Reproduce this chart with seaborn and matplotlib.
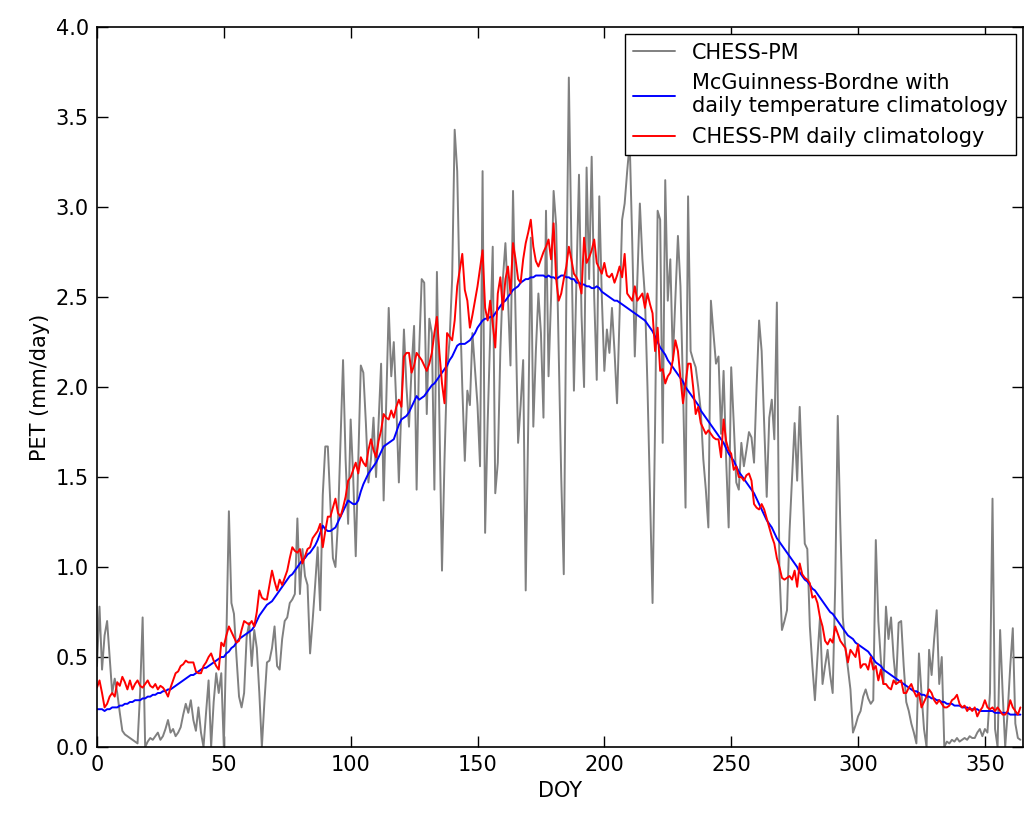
import numpy as np
import pandas as pd
import seaborn as sns
import matplotlib.pyplot as plt

# day of year
doy = np.arange(0, 365)

# CHESS-PM daily PET (mm/day)
chess_pm = [
    0.45, 0.78, 0.43, 0.62, 0.70, 0.50, 0.30, 0.38, 0.30, 0.19,
    0.09, 0.07, 0.06, 0.05, 0.04, 0.03, 0.02, 0.30, 0.72, 0.00,
    0.03, 0.05, 0.04, 0.06, 0.08, 0.04, 0.06, 0.10, 0.15, 0.08,
    0.10, 0.06, 0.08, 0.11, 0.18, 0.24, 0.19, 0.26, 0.15, 0.09,
    0.22, 0.08, 0.00, 0.19, 0.37, 0.00, 0.25, 0.41, 0.30, 0.41,
    0.00, 0.60, 1.31, 0.80, 0.74, 0.50, 0.28, 0.22, 0.30, 0.61,
    0.69, 0.45, 0.65, 0.55, 0.30, 0.00, 0.25, 0.47, 0.48, 0.55,
    0.67, 0.45, 0.43, 0.60, 0.70, 0.72, 0.80, 0.82, 0.85, 1.27,
    0.85, 1.10, 0.95, 0.90, 0.52, 0.70, 0.90, 1.11, 0.76, 1.40,
    1.67, 1.67, 1.35, 1.05, 1.00, 1.25, 1.70, 2.15, 1.60, 1.24,
    1.82, 1.50, 1.06, 1.60, 2.12, 2.08, 1.80, 1.47, 1.60, 1.83,
    1.50, 1.80, 2.13, 1.37, 1.90, 2.44, 2.06, 2.25, 1.90, 1.47,
    1.90, 2.32, 2.00, 1.78, 2.10, 2.34, 1.43, 2.20, 2.60, 2.58,
    1.85, 2.38, 2.30, 1.43, 2.64, 1.80, 0.98, 1.60, 2.10, 2.26,
    2.60, 3.43, 3.20, 2.50, 2.00, 1.59, 1.98, 1.90, 2.30, 2.10,
    1.90, 1.56, 3.20, 1.19, 1.80, 2.30, 2.78, 1.41, 1.58, 2.20,
    2.60, 2.80, 2.50, 2.12, 3.09, 2.40, 1.69, 1.90, 2.15, 0.87,
    1.80, 2.83, 1.78, 2.20, 2.52, 2.30, 1.83, 2.98, 2.06, 2.50,
    3.09, 2.90, 2.20, 1.50, 0.96, 2.50, 3.72, 2.80, 1.98, 2.60,
    3.18, 2.40, 2.00, 3.22, 2.60, 3.28, 2.50, 2.04, 3.06, 2.50,
    2.09, 2.32, 2.19, 2.44, 2.20, 1.91, 2.40, 2.93, 3.02, 3.20,
    3.36, 2.80, 2.17, 2.60, 3.02, 2.71, 2.50, 2.00, 1.40, 0.80,
    1.80, 2.98, 2.93, 1.69, 3.15, 2.48, 2.71, 2.15, 2.50, 2.84,
    2.56, 2.00, 1.33, 3.06, 2.20, 2.15, 2.11, 2.00, 1.87, 1.60,
    1.43, 1.22, 2.48, 2.30, 2.13, 2.17, 1.74, 2.09, 1.60, 1.22,
    2.11, 1.80, 1.47, 1.43, 1.69, 1.56, 1.65, 1.75, 1.72, 1.58,
    2.00, 2.37, 2.20, 1.80, 1.39, 1.83, 1.93, 1.71, 2.47, 0.98,
    0.65, 0.70, 0.76, 1.20, 1.50, 1.80, 1.48, 1.89, 1.50, 1.13,
    1.10, 0.67, 0.45, 0.26, 0.50, 0.72, 0.35, 0.45, 0.54, 0.40,
    0.30, 0.90, 1.84, 1.24, 0.72, 0.55, 0.44, 0.32, 0.08, 0.12,
    0.17, 0.20, 0.28, 0.32, 0.27, 0.24, 0.26, 1.15, 0.70, 0.48,
    0.35, 0.78, 0.60, 0.72, 0.50, 0.35, 0.69, 0.70, 0.45, 0.25,
    0.20, 0.13, 0.08, 0.02, 0.52, 0.30, 0.10, 0.00, 0.54, 0.40,
    0.60, 0.76, 0.35, 0.50, 0.00, 0.03, 0.02, 0.04, 0.03, 0.05,
    0.03, 0.04, 0.05, 0.04, 0.06, 0.05, 0.05, 0.08, 0.10, 0.06,
    0.10, 0.08, 0.30, 1.38, 0.10, 0.00, 0.65, 0.30, 0.00, 0.20,
    0.45, 0.66, 0.13, 0.05, 0.04,
]

# McGuinness-Bordne with daily temperature climatology
mcg_bordne = [
    0.21, 0.21, 0.21, 0.20, 0.21, 0.21, 0.22, 0.22, 0.22, 0.23,
    0.23, 0.24, 0.24, 0.25, 0.25, 0.26, 0.26, 0.26, 0.27, 0.27,
    0.28, 0.28, 0.29, 0.29, 0.30, 0.30, 0.31, 0.31, 0.32, 0.32,
    0.33, 0.34, 0.35, 0.36, 0.37, 0.38, 0.39, 0.40, 0.40, 0.41,
    0.42, 0.43, 0.44, 0.44, 0.45, 0.46, 0.47, 0.48, 0.49, 0.50,
    0.50, 0.52, 0.53, 0.55, 0.56, 0.58, 0.60, 0.61, 0.62, 0.63,
    0.64, 0.65, 0.67, 0.70, 0.73, 0.75, 0.77, 0.79, 0.80, 0.81,
    0.83, 0.85, 0.87, 0.89, 0.91, 0.93, 0.95, 0.96, 0.98, 1.00,
    1.02, 1.04, 1.05, 1.07, 1.08, 1.10, 1.12, 1.15, 1.19, 1.23,
    1.21, 1.20, 1.20, 1.21, 1.22, 1.25, 1.28, 1.31, 1.34, 1.37,
    1.36, 1.35, 1.35, 1.37, 1.42, 1.46, 1.49, 1.52, 1.54, 1.56,
    1.58, 1.61, 1.64, 1.67, 1.68, 1.69, 1.70, 1.71, 1.75, 1.79,
    1.82, 1.83, 1.84, 1.86, 1.89, 1.92, 1.95, 1.93, 1.94, 1.95,
    1.97, 1.99, 2.01, 2.02, 2.04, 2.06, 2.08, 2.10, 2.12, 2.15,
    2.17, 2.20, 2.23, 2.24, 2.24, 2.24, 2.25, 2.26, 2.28, 2.30,
    2.33, 2.35, 2.37, 2.38, 2.38, 2.39, 2.39, 2.41, 2.43, 2.45,
    2.47, 2.48, 2.50, 2.52, 2.54, 2.55, 2.56, 2.58, 2.59, 2.60,
    2.60, 2.61, 2.61, 2.62, 2.62, 2.62, 2.62, 2.61, 2.62, 2.61,
    2.61, 2.60, 2.61, 2.62, 2.62, 2.61, 2.61, 2.60, 2.60, 2.58,
    2.58, 2.57, 2.57, 2.56, 2.56, 2.55, 2.55, 2.56, 2.55, 2.53,
    2.52, 2.51, 2.50, 2.49, 2.48, 2.48, 2.47, 2.46, 2.45, 2.44,
    2.43, 2.42, 2.41, 2.40, 2.39, 2.38, 2.37, 2.35, 2.33, 2.31,
    2.28, 2.25, 2.22, 2.20, 2.18, 2.15, 2.13, 2.11, 2.09, 2.07,
    2.05, 2.03, 2.00, 1.98, 1.96, 1.94, 1.92, 1.90, 1.87, 1.85,
    1.83, 1.81, 1.79, 1.77, 1.75, 1.73, 1.71, 1.69, 1.66, 1.63,
    1.61, 1.59, 1.56, 1.53, 1.51, 1.49, 1.47, 1.45, 1.43, 1.41,
    1.38, 1.35, 1.32, 1.29, 1.26, 1.24, 1.22, 1.19, 1.16, 1.14,
    1.12, 1.10, 1.08, 1.06, 1.04, 1.02, 1.00, 0.97, 0.95, 0.93,
    0.92, 0.90, 0.88, 0.87, 0.85, 0.83, 0.81, 0.79, 0.77, 0.75,
    0.74, 0.72, 0.70, 0.68, 0.66, 0.64, 0.62, 0.61, 0.60, 0.58,
    0.57, 0.56, 0.55, 0.54, 0.53, 0.51, 0.49, 0.47, 0.46, 0.45,
    0.43, 0.42, 0.41, 0.40, 0.39, 0.38, 0.37, 0.36, 0.35, 0.34,
    0.33, 0.32, 0.31, 0.31, 0.30, 0.29, 0.29, 0.28, 0.28, 0.27,
    0.27, 0.26, 0.26, 0.25, 0.25, 0.24, 0.24, 0.24, 0.23, 0.23,
    0.23, 0.22, 0.22, 0.22, 0.21, 0.21, 0.21, 0.21, 0.20, 0.20,
    0.20, 0.20, 0.20, 0.20, 0.19, 0.19, 0.19, 0.19, 0.19, 0.19,
    0.18, 0.18, 0.18, 0.18, 0.18,
]

# CHESS-PM daily climatology
chess_clim = [
    0.33, 0.37, 0.30, 0.22, 0.24, 0.28, 0.30, 0.28, 0.36, 0.34,
    0.39, 0.36, 0.32, 0.37, 0.32, 0.35, 0.37, 0.34, 0.33, 0.35,
    0.37, 0.34, 0.33, 0.35, 0.32, 0.34, 0.33, 0.31, 0.28, 0.33,
    0.37, 0.41, 0.42, 0.45, 0.46, 0.48, 0.47, 0.47, 0.47, 0.42,
    0.41, 0.41, 0.45, 0.47, 0.50, 0.52, 0.48, 0.45, 0.43, 0.58,
    0.56, 0.62, 0.67, 0.64, 0.61, 0.58, 0.59, 0.65, 0.70, 0.69,
    0.68, 0.70, 0.67, 0.75, 0.87, 0.83, 0.82, 0.82, 0.90, 0.98,
    0.92, 0.87, 0.93, 0.90, 0.94, 0.98, 1.05, 1.11, 1.09, 1.08,
    1.10, 1.02, 1.06, 1.10, 1.11, 1.16, 1.18, 1.20, 1.24, 1.11,
    1.20, 1.28, 1.28, 1.33, 1.38, 1.30, 1.28, 1.33, 1.39, 1.48,
    1.50, 1.54, 1.58, 1.52, 1.61, 1.58, 1.56, 1.65, 1.71, 1.65,
    1.61, 1.70, 1.76, 1.85, 1.83, 1.82, 1.87, 1.83, 1.89, 1.93,
    1.89, 2.17, 2.19, 2.19, 2.08, 2.12, 2.19, 2.17, 2.15, 2.12,
    2.09, 2.13, 2.19, 2.30, 2.39, 2.19, 2.02, 1.91, 2.30, 2.28,
    2.26, 2.37, 2.56, 2.65, 2.74, 2.54, 2.48, 2.33, 2.40, 2.48,
    2.56, 2.66, 2.76, 2.44, 2.37, 2.48, 2.35, 2.22, 2.52, 2.61,
    2.43, 2.60, 2.67, 2.52, 2.80, 2.71, 2.60, 2.58, 2.71, 2.80,
    2.86, 2.93, 2.78, 2.70, 2.67, 2.71, 2.75, 2.78, 2.82, 2.71,
    2.91, 2.60, 2.48, 2.52, 2.60, 2.67, 2.78, 2.71, 2.63, 2.61,
    2.58, 2.52, 2.83, 2.69, 2.72, 2.76, 2.82, 2.69, 2.66, 2.63,
    2.69, 2.62, 2.61, 2.63, 2.58, 2.62, 2.67, 2.61, 2.74, 2.52,
    2.50, 2.48, 2.56, 2.48, 2.50, 2.52, 2.44, 2.52, 2.46, 2.41,
    2.20, 2.33, 2.09, 2.10, 2.02, 2.06, 2.08, 2.15, 2.26, 2.20,
    2.05, 1.91, 2.02, 2.13, 2.13, 2.00, 1.85, 1.89, 1.80, 1.77,
    1.74, 1.76, 1.74, 1.72, 1.71, 1.71, 1.61, 1.82, 1.70, 1.65,
    1.63, 1.54, 1.56, 1.50, 1.50, 1.48, 1.51, 1.52, 1.48, 1.35,
    1.33, 1.32, 1.35, 1.32, 1.27, 1.22, 1.17, 1.13, 1.05, 1.00,
    0.94, 0.93, 0.94, 0.95, 0.93, 0.98, 0.89, 1.02, 0.96, 0.94,
    0.93, 0.91, 0.83, 0.84, 0.80, 0.72, 0.67, 0.59, 0.57, 0.60,
    0.58, 0.67, 0.63, 0.59, 0.57, 0.55, 0.47, 0.54, 0.52, 0.50,
    0.57, 0.44, 0.46, 0.46, 0.43, 0.50, 0.43, 0.45, 0.37, 0.43,
    0.35, 0.35, 0.33, 0.32, 0.37, 0.35, 0.36, 0.37, 0.30, 0.30,
    0.33, 0.35, 0.31, 0.28, 0.30, 0.22, 0.25, 0.28, 0.32, 0.30,
    0.26, 0.24, 0.26, 0.24, 0.22, 0.22, 0.23, 0.26, 0.27, 0.29,
    0.24, 0.22, 0.23, 0.20, 0.22, 0.20, 0.22, 0.17, 0.20, 0.22,
    0.26, 0.22, 0.21, 0.22, 0.20, 0.22, 0.20, 0.18, 0.18, 0.20,
    0.26, 0.22, 0.20, 0.18, 0.22,
]

df = pd.DataFrame({"DOY": doy, "chess": chess_pm, "mcg": mcg_bordne, "clim": chess_clim})

sns.set_style("ticks")
plt.rcParams["font.family"] = ["DejaVu Sans"]
plt.rcParams["xtick.direction"] = "in"
plt.rcParams["ytick.direction"] = "in"
plt.rcParams["text.color"] = "black"
plt.rcParams["axes.labelcolor"] = "black"
plt.rcParams["xtick.color"] = "black"
plt.rcParams["ytick.color"] = "black"

fig = plt.figure(figsize=(10.25, 8.18), dpi=100)
ax = fig.add_axes([0.0946, 0.0868, 0.9034, 0.880])

sns.lineplot(data=df, x="DOY", y="chess", color="gray", lw=1.4, label="CHESS-PM", ax=ax)
sns.lineplot(data=df, x="DOY", y="mcg", color="blue", lw=1.4,
             label="McGuinness-Bordne with\ndaily temperature climatology", ax=ax)
sns.lineplot(data=df, x="DOY", y="clim", color="red", lw=1.4,
             label="CHESS-PM daily climatology", ax=ax)

ax.set_xlim(0, 365)
ax.set_ylim(0, 4)
ax.set_xticks(range(0, 351, 50))
ax.set_yticks(np.arange(0, 4.01, 0.5))
ax.set_yticklabels([f"{v:.1f}" for v in np.arange(0, 4.01, 0.5)])
ax.set_xlabel("DOY", fontsize=15)
ax.set_ylabel("PET (mm/day)", fontsize=15)
ax.tick_params(labelsize=15, length=8, width=1, top=True, right=True, pad=6)
for s in ax.spines.values():
    s.set_linewidth(1.2)
    s.set_color("black")

leg = ax.legend(loc="upper right", fontsize=15, fancybox=False, framealpha=1,
                edgecolor="black", borderaxespad=0.35, handlelength=2.0)
leg.get_frame().set_linewidth(1.0)

fig.savefig("out.png", dpi=100)
